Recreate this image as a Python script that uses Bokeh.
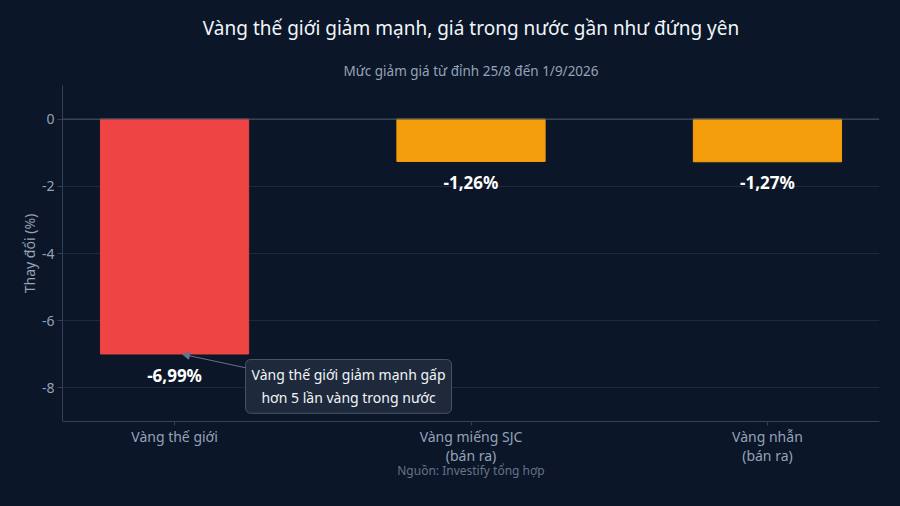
from bokeh.plotting import figure
from bokeh.models import (ColumnDataSource, Label, Span, FixedTicker, Arrow,
                          NormalHead, LabelSet, Title)
from bokeh.core.properties import value
from bokeh.embed import file_html
from bokeh.resources import INLINE

categories = ["Vàng thế giới", "Vàng miếng SJC\n(bán ra)", "Vàng nhẫn\n(bán ra)"]
values = [-6.99, -1.26, -1.27]
value_labels = ["-6,99%", "-1,26%", "-1,27%"]
colors = ["#ef4444", "#f59e0b", "#f59e0b"]
y_ticks = [0, -2, -4, -6, -8]
y_tick_labels = ["0", "-2", "-4", "-6", "-8"]

BG = "#0b1628"
FONT = "Noto Sans"

xs = list(range(len(categories)))
src = ColumnDataSource(dict(x=xs, top=values, color=colors, lab=value_labels,
                            ly=[v - 0.63 for v in values]))

p = figure(width=900, height=506, output_backend="svg", toolbar_location=None,
           x_range=(-0.378, 2.378), y_range=(-9, 1),
           min_border_left=62, min_border_right=21, min_border_top=0,
           min_border_bottom=85)
p.background_fill_color = BG
p.border_fill_color = BG
p.outline_line_color = None
p.outline_line_alpha = 0

p.vbar(x="x", top="top", bottom=0, width=0.5, color="color", source=src)

p.add_layout(LabelSet(x="x", y="ly", text="lab", source=src, text_align="center",
                      text_baseline="middle", text_color="#ffffff",
                      text_font=value(FONT), text_font_size="17px",
                      text_font_style="bold"))

p.add_layout(Span(location=0, dimension="width", line_color="#475569", line_width=1))

# axes
p.xaxis.ticker = FixedTicker(ticks=xs)
p.xaxis.major_label_overrides = {i: c for i, c in enumerate(categories)}
p.xaxis.major_label_text_color = "#94a3b8"
p.xaxis.major_label_text_font = FONT
p.xaxis.major_label_text_font_size = "14px"
p.xaxis.major_label_text_line_height = 1.0
p.xaxis.axis_line_color = "#334155"
p.xaxis.major_tick_line_color = "#334155"
p.xaxis.major_tick_out = 4
p.xaxis.major_tick_in = 0
p.xaxis.minor_tick_line_color = None
p.xaxis.major_label_standoff = 1
p.xaxis.axis_label = "Nguồn: Investify tổng hợp"
p.xaxis.axis_label_text_color = "#64748b"
p.xaxis.axis_label_text_font = FONT
p.xaxis.axis_label_text_font_size = "12px"
p.xaxis.axis_label_text_font_style = "normal"
p.xaxis.axis_label_standoff = -6

p.yaxis.ticker = FixedTicker(ticks=y_ticks)
p.yaxis.major_label_overrides = {t: l for t, l in zip(y_ticks, y_tick_labels)}
p.yaxis.major_label_text_color = "#94a3b8"
p.yaxis.major_label_text_font = FONT
p.yaxis.major_label_text_font_size = "14px"
p.yaxis.axis_line_color = "#334155"
p.yaxis.major_tick_line_color = "#334155"
p.yaxis.major_tick_out = 5
p.yaxis.major_tick_in = 0
p.yaxis.minor_tick_line_color = None
p.yaxis.major_label_standoff = 3
p.yaxis.axis_label = "Thay đổi (%)"
p.yaxis.axis_label_text_color = "#94a3b8"
p.yaxis.axis_label_text_font = FONT
p.yaxis.axis_label_text_font_size = "14px"
p.yaxis.axis_label_text_font_style = "normal"
p.yaxis.axis_label_standoff = 0

p.xgrid.grid_line_color = None
p.ygrid.ticker = FixedTicker(ticks=y_ticks)
p.ygrid.grid_line_color = "#1e293b"

# subtitle then main title (later = further out)
p.add_layout(Title(text="Mức giảm giá từ đỉnh 25/8 đến 1/9/2026", align="center",
                   text_color="#94a3b8", text_font=FONT, text_font_size="13.5px",
                   text_font_style="normal", standoff=12), "above")
p.add_layout(Title(text="Vàng thế giới giảm mạnh, giá trong nước gần như đứng yên",
                   align="center", text_color="#f1f5f9", text_font=FONT,
                   text_font_size="19px", text_font_style="normal", standoff=25,
                   offset=0), "above")

# annotation
p.add_layout(Arrow(x_start=0.25, y_start=-7.42, x_end=0.027, y_end=-7.0,
                   line_color="#64748b", line_width=1,
                   end=NormalHead(size=7, fill_color="#64748b", line_color="#64748b")))
p.add_layout(Label(x=0.587, y=-7.955,
                   text="Vàng thế giới giảm mạnh gấp\nhơn 5 lần vàng trong nước",
                   text_align="center", text_baseline="middle", text_color="#f1f5f9",
                   text_font=FONT, text_font_size="14px",
                   background_fill_color="#1e293b", border_line_color="#475569",
                   border_line_width=1, padding=6, border_radius=5))

html = file_html(p, INLINE)
html = html.replace("</head>",
                    "<style>html,body{margin:0;padding:0;background:%s;overflow:hidden}</style></head>" % BG, 1)
open("out.html", "w").write(html)
